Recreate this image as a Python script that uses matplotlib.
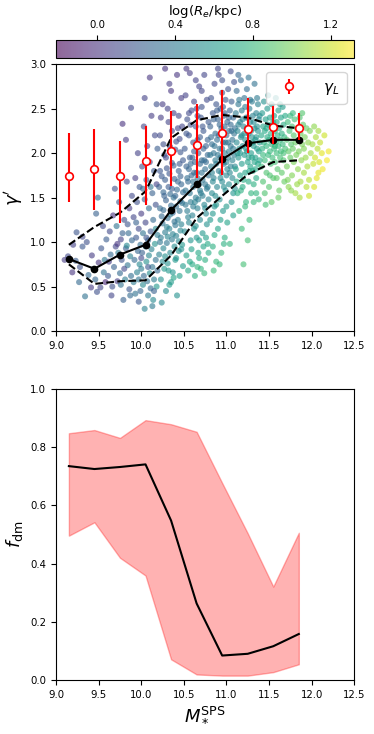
import numpy as np
import matplotlib
matplotlib.use("Agg")
import matplotlib.pyplot as plt

# binned stellar mass
mass_bins = [9.15, 9.45, 9.75, 10.05, 10.35, 10.65, 10.95, 11.25, 11.55, 11.85]

# gamma' median and 16/84 percentiles
gamma_med = [0.81, 0.70, 0.86, 0.97, 1.36, 1.65, 1.93, 2.11, 2.15, 2.15]
gamma_p16 = [0.75, 0.53, 0.56, 0.57, 0.85, 1.27, 1.52, 1.76, 1.90, 1.92]
gamma_p84 = [0.97, 1.17, 1.33, 1.57, 2.17, 2.37, 2.43, 2.40, 2.31, 2.28]

# lensing slope gamma_L with asymmetric errors
gammaL = [1.74, 1.82, 1.74, 1.91, 2.02, 2.09, 2.23, 2.27, 2.29, 2.28]
gammaL_lo = [1.45, 1.36, 1.22, 1.42, 1.63, 1.72, 1.76, 2.00, 2.10, 2.15]
gammaL_hi = [2.23, 2.27, 2.14, 2.31, 2.47, 2.55, 2.71, 2.62, 2.53, 2.45]

# dark matter fraction
fdm_med = [0.735, 0.725, 0.732, 0.741, 0.548, 0.263, 0.084, 0.090, 0.116, 0.158]
fdm_lo = [0.496, 0.542, 0.420, 0.359, 0.071, 0.019, 0.015, 0.015, 0.027, 0.054]
fdm_hi = [0.848, 0.859, 0.832, 0.893, 0.879, 0.853, 0.677, 0.504, 0.321, 0.506]

# individual galaxies (logM, gamma', logRe), grouped by mass range
gal_lowest = [(9.10,0.80,0.05),(9.14,0.84,0.12),(9.20,0.97,0.08),(9.24,1.11,0.18),(9.23,0.79,0.22),
              (9.28,0.72,0.15),(9.27,0.55,0.3),(9.19,0.66,0.02)]
gal_95 = [(9.31,1.06,0.1),(9.31,0.95,0.2),(9.34,0.39,0.35),(9.38,0.63,0.3),(9.41,0.49,0.05),(9.44,0.70,0.12),
          (9.47,1.32,0.25),(9.46,0.58,0.28),(9.49,1.50,0.3),(9.50,0.77,0.0),(9.52,0.49,0.1),(9.53,0.93,0.18),
          (9.55,1.18,0.12),(9.56,0.66,0.35),(9.58,0.55,-0.05),(9.42,0.85,0.05),(9.36,1.00,0.15),(9.59,1.03,0.22),
          (9.48,0.44,0.15),(9.57,0.80,0.4)]
gal_98 = [(9.61,0.62,0.2),(9.63,1.12,0.12),(9.64,0.86,0.3),(9.66,0.50,0.15),(9.67,1.30,0.0),(9.68,0.72,0.25),
          (9.70,0.95,0.1),(9.71,1.18,0.35),(9.72,0.56,0.05),(9.73,0.88,0.4),(9.74,1.45,0.2),(9.75,0.65,0.3),
          (9.76,1.03,0.08),(9.77,0.80,0.18),(9.78,2.33,0.0),(9.79,0.35,0.25),(9.80,1.25,0.15),(9.81,0.58,0.42),
          (9.82,0.93,0.22),(9.82,2.15,0.05),(9.83,1.68,0.1),(9.84,0.74,0.38),(9.85,1.10,0.3),(9.86,0.47,0.2),
          (9.86,1.38,0.05),(9.87,0.84,0.45),(9.88,2.51,0.1),(9.88,0.62,0.33),(9.89,1.52,0.12),(9.89,1.02,0.28),
          (9.65,0.40,0.1),(9.69,1.60,0.15),(9.72,0.98,0.02),(9.76,0.52,0.35),(9.80,0.70,0.12),(9.84,1.20,0.18),
          (9.62,0.78,0.05),(9.78,1.10,0.25),(9.87,0.40,0.3),(9.83,0.96,0.5)]
gal_101 = [(9.91,0.55,0.4),(9.91,1.28,0.1),(9.92,0.80,0.3),(9.93,1.72,0.05),(9.93,0.42,0.35),(9.94,1.05,0.2),
           (9.95,0.66,0.45),(9.95,1.45,0.15),(9.96,0.90,0.28),(9.96,2.00,0.08),(9.97,0.58,0.38),(9.97,1.15,0.12),
           (9.98,0.75,0.5),(9.98,1.62,0.2),(9.99,0.97,0.32),(9.99,0.45,0.28),(10.00,1.32,0.05),(10.00,0.70,0.42),
           (10.01,1.85,0.15),(10.01,0.88,0.25),(10.02,0.52,0.5),(10.02,1.10,0.35),(10.03,2.30,0.1),(10.03,0.62,0.3),
           (10.04,1.48,0.22),(10.04,0.25,0.45),(10.05,0.95,0.4),(10.05,1.22,0.1),(10.06,0.78,0.55),(10.06,1.70,0.18),
           (10.07,0.56,0.35),(10.07,2.08,0.0),(10.08,1.02,0.28),(10.08,0.40,0.4),(10.09,1.38,0.32),(10.09,0.85,0.48),
           (10.10,1.90,0.12),(10.10,0.65,0.52),(10.11,1.12,0.2),(10.11,0.48,0.3),(10.12,2.42,0.05),(10.12,0.92,0.45),
           (10.13,1.55,0.25),(10.13,0.72,0.38),(10.14,1.25,0.3),(10.14,0.35,0.5),(10.15,1.80,0.2),(10.15,0.58,0.42),
           (10.16,0.98,0.55),(10.16,2.20,0.12),(10.17,1.42,0.15),(10.17,0.80,0.35),(10.18,0.50,0.6),(10.18,1.65,0.08),
           (10.19,1.08,0.42),(10.19,0.68,0.3),(10.19,2.05,0.22),(9.94,1.22,0.25),(9.97,0.33,0.2),(10.02,1.60,0.3),
           (10.08,0.72,0.2),(10.13,0.28,0.4),(10.17,1.15,0.5),(10.11,1.62,0.38),(10.06,1.05,0.18),(10.00,0.82,0.12),
           (10.15,0.45,0.25),(10.04,2.62,0.08),(10.18,2.55,0.15),(10.10,2.85,0.02)]
gal_104 = [(10.21,0.86,0.45),(10.22,1.38,0.3),(10.22,2.20,0.12),(10.23,0.58,0.55),(10.23,1.05,0.4),(10.24,1.74,0.2),
           (10.24,0.32,0.5),(10.25,1.21,0.35),(10.25,2.55,0.05),(10.26,0.93,0.48),(10.26,1.56,0.28),(10.27,0.70,0.6),
           (10.27,1.98,0.15),(10.28,1.11,0.42),(10.28,2.95,0.0),(10.29,0.45,0.52),(10.29,1.47,0.25),(10.30,0.99,0.38),
           (10.30,1.83,0.18),(10.31,0.76,0.55),(10.31,1.27,0.33),(10.32,2.35,0.1),(10.32,1.62,0.22),(10.33,0.52,0.62),
           (10.33,1.15,0.45),(10.34,2.07,0.12),(10.34,0.88,0.5),(10.35,1.41,0.3),(10.35,2.70,0.02),(10.36,1.03,0.4),
           (10.36,1.89,0.2),(10.37,0.66,0.58),(10.37,1.33,0.28),(10.38,2.45,0.08),(10.38,1.50,0.35),(10.39,0.95,0.52),
           (10.39,1.71,0.25),(10.40,1.19,0.38),(10.40,0.80,0.6),(10.41,2.13,0.15),(10.41,1.07,0.45),(10.42,1.59,0.3),
           (10.42,0.40,0.55),(10.43,1.25,0.42),(10.43,2.28,0.1),(10.44,0.90,0.55),(10.44,1.80,0.22),(10.45,1.35,0.35),
           (10.45,0.62,0.65),(10.46,2.01,0.18),(10.46,1.13,0.48),(10.47,1.65,0.28),(10.47,2.62,0.05),(10.48,0.97,0.6),
           (10.48,1.44,0.38),(10.49,1.92,0.2),(10.49,0.73,0.62),(10.21,1.62,0.25),(10.22,1.00,0.38),(10.23,2.40,0.05),
           (10.24,1.29,0.3),(10.25,0.78,0.5),(10.26,2.10,0.15),(10.27,1.52,0.25),(10.28,0.84,0.55),(10.29,1.95,0.12),
           (10.30,1.17,0.45),(10.31,2.50,0.08),(10.32,0.68,0.6),(10.33,1.77,0.2),(10.34,1.31,0.4),(10.35,0.55,0.62),
           (10.36,2.25,0.1),(10.37,1.09,0.45),(10.38,1.86,0.25),(10.39,1.23,0.35),(10.40,2.04,0.15),(10.41,0.82,0.58),
           (10.42,2.88,0.02),(10.43,1.68,0.28),(10.44,1.01,0.5),(10.45,2.16,0.12),(10.46,1.46,0.32),(10.47,0.92,0.55),
           (10.48,2.30,0.1),(10.49,1.56,0.3),(10.26,1.36,0.3),(10.31,1.06,0.48),(10.36,1.60,0.22),(10.41,1.40,0.32),
           (10.46,1.74,0.25),(10.33,2.78,0.05),(10.38,0.60,0.68),(10.44,2.42,0.12),(10.47,1.20,0.45),(10.22,1.80,0.18),
           (10.28,1.70,0.22),(10.34,1.54,0.3),(10.40,1.52,0.28),(10.45,1.88,0.2)]
gal_107 = [(10.51,1.12,0.5),(10.51,2.05,0.2),(10.52,1.58,0.35),(10.52,2.65,0.08),(10.53,0.85,0.65),(10.53,1.85,0.25),
           (10.54,1.35,0.42),(10.54,2.38,0.15),(10.55,1.68,0.3),(10.55,0.68,0.7),(10.56,2.20,0.18),(10.56,1.22,0.48),
           (10.57,1.95,0.22),(10.57,2.90,0.05),(10.58,1.45,0.4),(10.58,1.02,0.58),(10.59,2.48,0.12),(10.59,1.75,0.3),
           (10.60,1.30,0.45),(10.60,0.75,0.72),(10.61,2.12,0.2),(10.61,1.62,0.35),(10.62,2.58,0.1),(10.62,1.15,0.55),
           (10.63,1.90,0.28),(10.63,0.62,0.75),(10.64,1.50,0.42),(10.64,2.30,0.18),(10.65,1.05,0.6),(10.65,1.78,0.32),
           (10.66,2.42,0.15),(10.66,1.38,0.45),(10.67,0.88,0.7),(10.67,2.00,0.25),(10.68,1.65,0.35),(10.68,2.75,0.08),
           (10.69,1.25,0.5),(10.69,2.18,0.22),(10.70,0.70,0.78),(10.70,1.55,0.42),(10.71,1.92,0.3),(10.71,2.52,0.15),
           (10.72,1.10,0.6),(10.72,1.70,0.38),(10.73,2.25,0.2),(10.73,0.95,0.68),(10.74,1.42,0.48),(10.74,2.88,0.1),
           (10.75,1.82,0.32),(10.75,0.80,0.75),(10.76,2.08,0.25),(10.76,1.32,0.5),(10.77,2.60,0.12),(10.77,1.60,0.4),
           (10.78,0.98,0.7),(10.78,1.98,0.28),(10.79,2.35,0.2),(10.79,1.48,0.45),(10.52,1.42,0.38),(10.53,2.22,0.18),
           (10.55,1.28,0.45),(10.56,1.82,0.28),(10.58,2.32,0.15),(10.59,0.92,0.65),(10.61,1.40,0.42),(10.62,2.02,0.22),
           (10.64,1.18,0.55),(10.65,2.50,0.12),(10.66,1.72,0.35),(10.68,0.82,0.72),(10.69,1.88,0.3),(10.70,2.40,0.18),
           (10.72,1.52,0.42),(10.73,2.05,0.25),(10.74,0.65,0.8),(10.75,1.65,0.38),(10.77,1.20,0.55),(10.78,2.15,0.25),
           (10.79,1.75,0.35),(10.54,1.72,0.32),(10.57,1.55,0.38),(10.60,1.95,0.25),(10.63,1.45,0.45),(10.66,2.15,0.2),
           (10.69,1.58,0.4),(10.72,2.30,0.18),(10.75,1.38,0.5),(10.78,1.62,0.4),(10.58,1.88,0.28),(10.62,1.78,0.3),
           (10.67,1.48,0.42),(10.71,1.78,0.35),(10.76,1.90,0.3),(10.53,2.95,0.02),(10.64,2.82,0.08),(10.71,2.70,0.1),
           (10.57,0.78,0.7),(10.68,1.02,0.62),(10.76,1.05,0.65),(10.61,1.68,0.35),(10.74,1.92,0.3),(10.56,2.45,0.12),
           (10.66,0.72,0.78),(10.79,0.88,0.72)]
gal_110 = [(10.81,1.25,0.6),(10.81,2.30,0.25),(10.82,1.85,0.4),(10.82,2.62,0.15),(10.83,1.55,0.5),(10.83,2.10,0.32),
           (10.84,0.95,0.75),(10.84,2.45,0.2),(10.85,1.72,0.45),(10.85,2.00,0.35),(10.86,2.78,0.12),(10.86,1.40,0.55),
           (10.87,2.22,0.3),(10.87,1.92,0.4),(10.88,0.78,0.8),(10.88,2.55,0.18),(10.89,1.62,0.48),(10.89,2.15,0.32),
           (10.90,1.15,0.68),(10.90,2.38,0.25),(10.91,1.80,0.42),(10.91,2.88,0.1),(10.92,2.05,0.35),(10.92,1.48,0.55),
           (10.93,2.50,0.22),(10.93,1.95,0.38),(10.94,0.88,0.8),(10.94,2.28,0.3),(10.95,1.68,0.5),(10.95,2.68,0.18),
           (10.96,2.12,0.35),(10.96,1.35,0.6),(10.97,1.88,0.42),(10.97,2.42,0.25),(10.98,1.05,0.75),(10.98,2.00,0.4),
           (10.99,2.60,0.2),(10.99,1.58,0.52),(11.00,2.20,0.32),(11.00,1.75,0.48),(11.01,2.35,0.28),(11.01,1.22,0.68),
           (11.02,1.95,0.42),(11.02,2.72,0.15),(11.03,1.65,0.52),(11.03,2.25,0.32),(11.04,0.98,0.78),(11.04,2.48,0.25),
           (11.05,1.85,0.45),(11.05,2.08,0.38),(11.06,1.45,0.6),(11.06,2.58,0.22),(11.07,2.15,0.35),(11.07,1.72,0.5),
           (11.08,2.40,0.28),(11.08,1.30,0.65),(11.09,1.98,0.42),(11.09,2.80,0.15),(11.10,1.60,0.55),(11.10,2.28,0.32),
           (10.82,2.18,0.3),(10.84,1.68,0.48),(10.86,2.08,0.35),(10.88,1.88,0.42),(10.90,1.98,0.38),(10.92,2.32,0.28),
           (10.94,1.78,0.48),(10.96,2.52,0.22),(10.98,2.30,0.3),(11.00,1.90,0.45),(11.02,2.12,0.38),(11.04,1.78,0.5),
           (11.06,2.25,0.32),(11.08,2.05,0.4),(11.10,1.85,0.48),(10.83,1.78,0.45),(10.85,2.38,0.25),(10.87,1.52,0.52),
           (10.89,2.48,0.22),(10.91,2.20,0.32),(10.93,1.72,0.5),(10.95,2.05,0.38),(10.97,1.62,0.52),(10.99,2.12,0.35),
           (11.01,1.82,0.48),(11.03,2.40,0.28),(11.05,2.32,0.3),(11.07,1.92,0.45),(11.09,2.22,0.35),(10.85,0.68,0.82),
           (10.92,0.75,0.8),(10.97,0.98,0.75),(10.86,1.08,0.72),(11.00,1.40,0.62),(10.90,2.95,0.1),(11.05,2.92,0.12),
           (10.95,2.82,0.15),(10.84,1.32,0.6),(10.88,1.42,0.58),(10.93,1.25,0.65),(11.08,1.55,0.58),(10.81,1.98,0.38),
           (10.96,1.90,0.42),(11.03,2.02,0.42),(10.98,2.45,0.25)]
gal_113 = [(11.11,2.45,0.4),(11.11,1.82,0.65),(11.12,2.12,0.5),(11.12,2.70,0.3),(11.13,1.55,0.72),(11.13,2.25,0.48),
           (11.14,1.95,0.58),(11.14,2.55,0.38),(11.15,2.05,0.55),(11.15,1.35,0.78),(11.16,2.35,0.45),(11.16,1.75,0.65),
           (11.17,2.18,0.52),(11.17,2.82,0.3),(11.18,1.88,0.62),(11.18,2.48,0.42),(11.19,1.62,0.72),(11.19,2.08,0.55),
           (11.20,2.30,0.48),(11.20,0.75,0.85),(11.21,1.98,0.6),(11.21,2.62,0.35),(11.22,1.78,0.68),(11.22,2.15,0.55),
           (11.23,2.40,0.45),(11.23,1.45,0.78),(11.24,2.02,0.6),(11.24,2.72,0.32),(11.25,1.90,0.65),(11.25,1.02,0.85),
           (11.26,2.22,0.52),(11.26,1.68,0.72),(11.27,2.50,0.42),(11.27,2.10,0.58),(11.28,1.85,0.68),(11.28,2.35,0.48),
           (11.29,2.00,0.62),(11.29,1.55,0.78),(11.30,2.58,0.4),(11.30,2.18,0.55),(11.31,1.80,0.7),(11.31,2.42,0.45),
           (11.32,2.08,0.6),(11.32,1.65,0.75),(11.33,2.28,0.52),(11.33,2.78,0.35),(11.34,1.95,0.65),(11.34,2.15,0.58),
           (11.35,1.72,0.72),(11.35,2.45,0.45),(11.36,2.05,0.62),(11.36,2.62,0.4),(11.37,1.88,0.68),(11.37,2.25,0.55),
           (11.38,1.48,0.8),(11.38,2.38,0.5),(11.39,2.12,0.6),(11.39,1.92,0.68),(11.12,1.68,0.7),(11.14,2.32,0.45),
           (11.16,2.00,0.6),(11.18,2.20,0.52),(11.20,1.70,0.72),(11.22,2.52,0.4),(11.24,2.28,0.5),(11.26,1.95,0.65),
           (11.28,2.60,0.38),(11.30,1.95,0.65),(11.32,2.35,0.5),(11.34,1.82,0.7),(11.36,2.30,0.55),(11.38,2.02,0.65),
           (11.13,2.00,0.58),(11.17,1.58,0.75),(11.21,2.22,0.55),(11.25,2.40,0.48),(11.29,2.25,0.55),(11.33,1.90,0.68),
           (11.37,2.55,0.45),(11.15,2.60,0.38),(11.19,2.38,0.45),(11.23,2.05,0.6),(11.27,1.80,0.7),(11.31,2.12,0.6),
           (11.35,2.18,0.58),(11.39,2.42,0.5),(11.22,1.40,0.8),(11.27,1.25,0.82),(11.18,1.15,0.82),(11.32,1.45,0.8),
           (11.35,1.55,0.78),(11.26,2.85,0.35),(11.14,2.88,0.28)]
gal_116 = [(11.41,2.20,0.7),(11.41,1.85,0.82),(11.42,2.45,0.6),(11.42,2.05,0.75),(11.43,1.68,0.88),(11.43,2.30,0.68),
           (11.44,2.12,0.75),(11.44,2.58,0.55),(11.45,1.92,0.82),(11.45,2.25,0.7),(11.46,1.42,0.85),(11.46,2.38,0.65),
           (11.47,2.08,0.78),(11.47,1.78,0.88),(11.48,2.18,0.72),(11.48,2.50,0.6),(11.49,1.98,0.8),(11.49,2.32,0.68),
           (11.50,2.15,0.75),(11.50,1.62,0.9),(11.51,2.40,0.65),(11.51,2.02,0.8),(11.52,2.22,0.72),(11.52,1.88,0.85),
           (11.53,2.55,0.6),(11.53,2.10,0.78),(11.54,1.95,0.82),(11.54,2.28,0.7),(11.55,2.15,0.78),(11.55,1.72,0.9),
           (11.56,2.42,0.65),(11.56,2.05,0.8),(11.57,2.25,0.72),(11.57,1.90,0.85),(11.58,2.62,0.58),(11.58,2.12,0.78),
           (11.59,2.00,0.82),(11.59,2.35,0.7),(11.60,1.82,0.9),(11.60,2.20,0.75),(11.61,2.48,0.65),(11.61,2.08,0.8),
           (11.62,1.58,0.95),(11.62,2.28,0.72),(11.63,2.15,0.78),(11.63,1.95,0.85),(11.64,2.40,0.68),(11.64,2.02,0.82),
           (11.65,2.22,0.75),(11.65,1.78,0.92),(11.66,2.52,0.62),(11.66,2.10,0.8),(11.67,1.92,0.88),(11.67,2.32,0.72),
           (11.68,2.18,0.78),(11.68,1.68,0.95),(11.69,2.05,0.85),(11.69,2.42,0.7),(11.43,1.98,0.8),(11.47,2.28,0.7),
           (11.51,1.75,0.88),(11.55,2.35,0.7),(11.59,1.72,0.92),(11.63,2.55,0.62),(11.67,2.00,0.85),(11.45,1.55,0.88),
           (11.53,1.45,0.92),(11.61,1.50,0.95),(11.49,2.65,0.55),(11.57,2.08,0.8)]
gal_119 = [(11.71,2.15,0.88),(11.71,1.85,0.98),(11.72,2.35,0.82),(11.73,2.02,0.92),(11.73,1.62,1.05),(11.74,2.25,0.85),
           (11.75,1.95,0.95),(11.75,2.42,0.8),(11.76,2.10,0.9),(11.77,1.75,1.02),(11.77,2.30,0.85),(11.78,2.05,0.95),
           (11.79,1.90,1.0),(11.79,2.20,0.9),(11.80,2.38,0.85),(11.81,1.55,1.1),(11.81,2.12,0.95),(11.82,1.98,1.0),
           (11.83,2.28,0.9),(11.84,1.82,1.05),(11.84,2.15,0.95),(11.85,2.02,1.0),(11.86,2.40,0.88),(11.87,1.68,1.1),
           (11.87,2.22,0.95),(11.88,1.92,1.05),(11.89,2.10,1.0),(11.90,2.32,0.92),(11.91,1.78,1.1),(11.91,2.05,1.02),
           (11.92,2.18,1.0),(11.93,1.95,1.08),(11.94,2.28,0.95),(11.95,1.85,1.12),(11.96,2.12,1.05),(11.97,1.70,1.15),
           (11.98,2.25,1.0),(11.99,2.00,1.1),(11.72,1.70,1.0),(11.78,2.45,0.8),(11.83,1.65,1.08),(11.89,2.45,0.9),
           (11.94,1.62,1.15),(11.76,1.58,1.05),(11.86,1.50,1.12)]
gal_highest = [(12.01,2.10,1.1),(12.02,1.88,1.18),(12.03,2.30,1.05),(12.04,1.95,1.2),(12.05,2.18,1.12),(12.06,1.72,1.25),
               (12.07,2.05,1.15),(12.08,2.25,1.1),(12.09,1.90,1.22),(12.10,2.12,1.18),(12.12,2.00,1.25),(12.13,1.82,1.28),
               (12.15,2.20,1.2),(12.18,1.92,1.3),(12.20,2.02,1.28),(12.03,1.62,1.22),(11.97,1.52,1.2),(12.08,1.78,1.25)]

galaxies = np.array(gal_lowest + gal_95 + gal_98 + gal_101 + gal_104 + gal_107
                    + gal_110 + gal_113 + gal_116 + gal_119 + gal_highest)
logM = galaxies[:, 0]
gam = galaxies[:, 1]
logRe = galaxies[:, 2]

fig = plt.figure(figsize=(3.74, 7.34), dpi=100)
ax1 = fig.add_axes([0.150, 0.549, 0.797, 0.3635])
ax2 = fig.add_axes([0.150, 0.0736, 0.797, 0.3964])
cax = fig.add_axes([0.150, 0.921, 0.797, 0.0245])

# --- top panel: gamma' vs mass ---
sc = ax1.scatter(logM, gam, c=logRe, cmap='viridis', vmin=-0.21, vmax=1.32,
                 s=19, alpha=0.6, edgecolors='none', zorder=1)
ax1.plot(mass_bins, gamma_med, 'k-o', lw=1.5, ms=4.5, zorder=3)
ax1.plot(mass_bins, gamma_p16, 'k--', lw=1.5, zorder=3)
ax1.plot(mass_bins, gamma_p84, 'k--', lw=1.5, zorder=3)
yerr = [np.array(gammaL) - np.array(gammaL_lo), np.array(gammaL_hi) - np.array(gammaL)]
ax1.errorbar(mass_bins, gammaL, yerr=yerr, fmt='o', color='r', mfc='white', mec='r',
             ms=5.5, mew=1.2, elinewidth=1.5, capsize=0, label=r'$\gamma_L$', zorder=4)
ax1.legend(loc='upper right', fontsize=11, handletextpad=1.2, borderpad=0.5)
ax1.set_xlim(9.0, 12.5)
ax1.set_ylim(0.0, 3.0)
ax1.set_xticks(np.arange(9.0, 12.51, 0.5))
ax1.set_yticks(np.arange(0.0, 3.01, 0.5))
ax1.set_ylabel(r"$\gamma'$", fontsize=13)
ax1.tick_params(labelsize=7.3)

cb = fig.colorbar(sc, cax=cax, orientation='horizontal')
cb.set_ticks([0.0, 0.4, 0.8, 1.2])
cax.xaxis.set_ticks_position('top')
cax.xaxis.set_label_position('top')
cb.set_label(r'log($R_e$/kpc)', fontsize=9.5)
cax.tick_params(labelsize=7.3)

# --- bottom panel: dark matter fraction ---
ax2.fill_between(mass_bins, fdm_lo, fdm_hi, color='r', alpha=0.3)
ax2.plot(mass_bins, fdm_med, 'k-', lw=1.5)
ax2.set_xlim(9.0, 12.5)
ax2.set_ylim(0.0, 1.0)
ax2.set_xticks(np.arange(9.0, 12.51, 0.5))
ax2.set_yticks(np.arange(0.0, 1.01, 0.2))
ax2.set_ylabel(r'$f_{\rm dm}$', fontsize=13)
ax2.set_xlabel(r'$M_*^{\rm SPS}$', fontsize=13)
ax2.tick_params(labelsize=7.3)

plt.savefig('out.png', dpi=100)
